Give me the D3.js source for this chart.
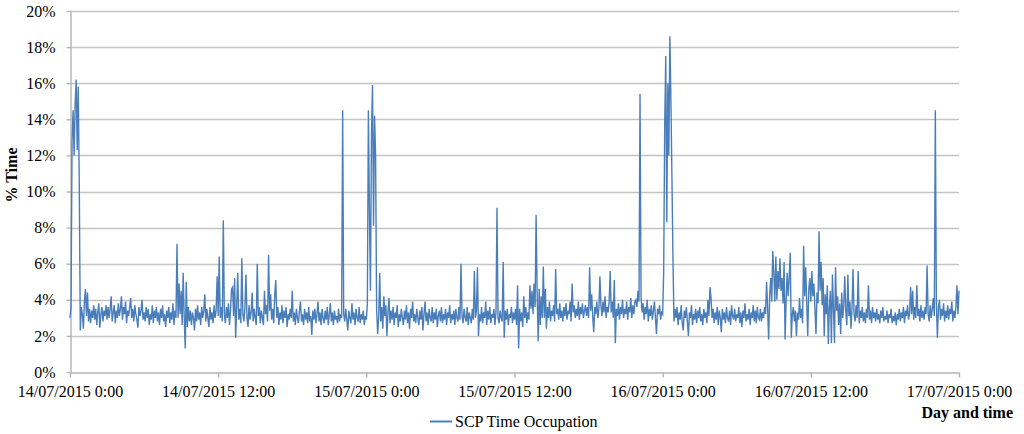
<!DOCTYPE html>
<html><head><meta charset="utf-8">
<script src="https://cdn.jsdelivr.net/npm/d3@7"></script>
<style>
body{margin:0;background:#fff}
text{font-family:"Liberation Serif","Times New Roman",serif;fill:#000}
</style>
</head><body><svg id="c" width="1024" height="434"></svg>
<script>
// 5-minute samples starting 14/07/2015 0:00
const stepMinutes = 5;
const day1 = [
3.0,3.6,12.8,14.5,12.0,14.8,16.2,12.3,15.8,10.5,2.3,3.6,
3.2,2.4,3.9,4.6,3.1,4.4,2.8,3.5,2.7,3.4,3.0,3.7,
2.9,3.5,2.6,3.3,3.8,2.45,3.2,3.6,2.8,3.4,3.1,3.7,
2.9,3.6,3.0,3.5,4.2,2.8,3.3,3.7,2.7,3.4,3.0,3.8,
3.1,3.5,4.2,2.9,3.6,3.2,3.9,2.7,3.4,3.1,3.6,4.1,
3.0,3.5,2.8,3.7,3.2,2.9,2.45,3.6,3.1,3.4,4.0,2.9,
3.3,2.8,3.6,3.0,3.5,2.6,3.2,2.9,3.7,2.7,3.4,3.0,
3.6,2.8,3.3,2.6,3.5,3.0,3.7,2.8,3.2,2.5,3.4,3.0,
3.6,2.7,3.3,2.9,3.8,2.6,3.4,3.0,7.1,3.0,4.9,3.2,
4.5,2.6,5.5,3.0,1.3,5.0,2.5,3.6,2.8,3.4,2.6,3.3,
3.0,2.3,3.5,2.8,3.7,2.9,3.3,2.6,3.6,3.0,3.4,4.3,
2.8,3.5,3.0,2.5,3.6,2.9,3.3,2.7,3.7,3.0,3.4,5.3,
3.1,6.4,3.0,3.6,2.8,8.4,3.2,2.7,3.6,3.0,3.8,2.6,
3.4,4.6,4.7,3.1,5.2,1.9,3.6,5.5,2.9,3.5,2.7,6.3,
3.2,2.8,3.6,5.4,3.0,2.5,3.7,2.9,3.3,4.4,2.8,3.5,
3.0,2.6,6.0,3.1,3.6,2.7,3.4,3.0,2.6,4.5,3.2,3.7,
2.8,6.5,3.4,4.3,2.9,3.5,2.7,4.3,5.1,3.0,3.6,2.6,
3.3,2.9,3.7,2.7,3.4,3.0,3.6,2.5,3.2,2.9,3.5,3.0,
4.5,2.8,3.3,2.6,3.5,3.0,2.7,3.4,3.9,2.8,3.2,2.6,
3.5,2.9,3.3,2.7,3.6,2.8,3.1,2.05,3.4,2.9,3.5,2.7,
3.2,3.9,2.8,3.3,2.6,3.5,3.0,2.7,3.4,2.9,3.6,2.6,
3.2,3.8,2.8,3.3,2.6,3.4,2.9,3.1,2.7,3.5,2.8,3.2,
3.0,14.5,3.2,2.8,3.5,2.9,2.3,3.4,3.0,2.7,3.8,2.9,
3.3,2.6,3.5,3.0,2.8,3.6,2.7,3.2,2.9,3.4,2.6,3.1
];
const day2 = [
2.9,3.8,14.5,9.0,4.5,13.2,15.9,8.1,14.2,12.0,3.5,2.1,
3.0,5.5,2.8,3.6,2.4,4.2,3.1,3.7,2.0,3.3,4.1,2.7,
3.4,2.9,3.6,2.6,3.3,3.0,3.7,2.5,3.2,2.8,3.5,3.0,
2.6,3.4,2.9,3.7,2.7,3.3,2.4,3.5,3.0,3.9,2.8,3.2,
2.7,3.5,3.0,2.6,3.4,2.9,3.6,2.3,3.2,3.9,2.8,3.3,
2.6,3.5,3.0,2.8,3.6,2.7,3.3,2.9,3.5,2.5,3.1,3.4,
2.8,3.6,2.7,3.2,2.9,3.5,2.6,3.3,3.0,3.7,2.7,3.2,
2.9,3.4,2.6,3.5,3.0,2.8,3.6,2.9,6.0,3.1,2.7,3.5,
3.0,2.8,3.6,2.6,3.3,3.0,2.7,3.5,2.9,5.6,3.0,3.4,
5.8,2.0,3.2,2.8,3.6,2.7,3.3,3.0,3.9,2.6,3.4,2.9,
3.6,2.7,3.2,3.0,3.5,2.6,3.3,9.1,3.0,2.7,3.4,3.0,
2.8,6.1,1.9,3.4,2.9,3.5,2.6,3.2,3.0,3.6,2.7,3.3,
2.9,3.5,2.6,4.8,1.3,3.5,2.8,3.3,2.5,4.2,3.0,3.6,
2.7,3.3,2.9,4.8,3.5,4.5,3.2,4.9,3.6,8.7,4.4,1.7,
4.6,2.6,4.2,3.0,5.85,3.0,4.6,2.4,3.6,3.0,3.9,2.8,
3.4,3.1,3.7,2.8,5.7,3.2,3.5,2.9,3.8,3.0,3.4,2.8,
3.6,3.1,3.8,2.9,3.4,3.2,3.9,2.8,4.9,3.3,3.7,3.0,
3.5,3.1,3.9,2.9,3.6,3.2,3.8,3.0,3.4,3.7,3.1,3.6,
3.0,5.8,3.4,4.3,3.1,2.2,3.6,3.2,3.9,3.0,3.5,5.3,
3.7,3.1,3.9,3.3,4.2,3.0,3.6,3.3,3.9,5.6,3.3,3.9,
3.0,5.1,1.6,3.5,3.1,3.8,2.9,3.6,3.2,4.0,3.0,3.5,
3.2,3.9,2.9,3.6,3.3,4.1,3.0,3.7,3.2,3.9,4.0,3.6,
4.5,3.9,15.4,4.2,3.3,3.8,2.9,3.6,3.2,4.0,2.8,3.5,
3.1,3.7,2.9,3.4,3.9,3.0,2.1,3.5,3.2,3.7,2.9,3.3
];
const day3 = [
3.2,5.6,13.8,17.5,8.3,16.0,12.0,18.6,15.1,10.8,6.3,2.8,
3.5,3.0,3.6,2.6,3.3,2.9,3.7,2.7,2.3,3.4,3.0,3.6,
2.8,2.0,3.3,3.0,3.7,2.6,3.2,2.9,3.5,2.7,3.4,3.0,
3.6,2.8,3.2,2.6,3.5,3.0,3.3,2.7,4.0,3.1,4.7,4.1,
3.0,3.5,2.7,3.3,2.9,3.6,2.6,3.4,3.0,2.2,3.5,2.9,
3.3,2.7,3.6,3.0,2.8,3.4,2.6,3.7,3.1,2.9,3.5,2.8,
3.2,3.0,3.6,2.7,3.3,2.5,3.4,3.0,3.8,2.8,3.2,2.9,
3.5,2.6,3.3,3.0,3.7,2.8,3.4,2.7,3.6,3.0,2.9,3.5,
2.8,3.3,3.0,3.6,3.2,5.0,3.5,1.8,4.2,5.2,3.9,6.7,
5.5,3.9,6.4,4.0,5.6,4.6,6.3,4.5,5.2,3.8,6.1,1.8,
4.0,5.5,4.2,5.3,6.6,1.9,3.2,3.6,2.8,3.4,2.0,3.3,
2.9,4.1,3.0,3.5,2.7,7.0,4.2,5.8,3.8,2.0,4.6,5.2,
3.9,5.6,4.2,4.9,3.5,2.1,4.4,3.8,7.8,4.5,6.1,3.7,
5.2,2.0,4.3,3.2,4.8,1.55,3.6,4.5,1.6,5.4,3.5,1.6,
5.8,3.4,4.2,2.6,3.8,2.1,4.4,3.0,3.7,5.3,3.3,2.6,
5.4,3.1,3.9,2.4,3.5,5.7,3.2,2.8,3.7,3.0,5.6,2.7,
3.4,3.0,3.6,2.8,3.3,2.7,3.5,3.0,4.8,2.9,3.4,2.7,
3.6,3.0,3.3,2.8,3.5,2.9,3.2,2.7,3.4,3.0,3.6,2.8,
3.1,2.9,3.4,2.7,3.2,3.0,3.5,2.7,3.1,2.8,3.3,2.6,
3.2,2.9,3.5,2.8,3.3,3.0,3.6,2.7,3.4,3.1,3.7,2.9,
3.3,4.7,3.2,4.5,2.9,3.6,3.0,4.8,3.1,3.5,2.8,3.7,
3.0,3.4,2.9,3.6,3.2,5.9,3.2,2.8,3.7,3.0,3.5,4.1,
3.1,14.5,3.8,1.9,3.6,4.0,2.9,3.5,3.1,3.8,2.8,3.4,
3.0,3.7,2.9,3.5,3.2,3.9,2.8,3.4,3.0,3.6,4.8,3.2,
4.5
];
const yTicks = [0,2,4,6,8,10,12,14,16,18,20];
const xTickLabels = ["14/07/2015 0:00","14/07/2015 12:00","15/07/2015 0:00","15/07/2015 12:00","16/07/2015 0:00","16/07/2015 12:00","17/07/2015 0:00"];
const seriesName = "SCP Time Occupation";
const yTitle = "% Time";
const xTitle = "Day and time";

const t0 = new Date(2015, 6, 14, 0, 0, 0);
const tEnd = new Date(2015, 6, 17, 0, 0, 0);
const values = day1.concat(day2, day3);
const data = values.map((v, i) => ({t: new Date(t0.getTime() + i * stepMinutes * 60000), v}));
const xTickValues = xTickLabels.map((d, k) => new Date(t0.getTime() + k * 12 * 3600000));

const svg = d3.select("#c");
const x = d3.scaleTime().domain([t0, tEnd]).range([70, 959]);
const y = d3.scaleLinear().domain([0, 20]).range([372, 11]);

// gridlines
svg.append("g").selectAll("line").data(yTicks.filter(d => d > 0)).join("line")
  .attr("x1", 70).attr("x2", 959)
  .attr("y1", d => Math.round(y(d)) + 0.5).attr("y2", d => Math.round(y(d)) + 0.5)
  .attr("stroke", "#c4c4c4").attr("stroke-width", 1.4);

// y axis
const gy = svg.append("g").attr("transform", "translate(70.5,0)")
  .call(d3.axisLeft(y).tickValues(yTicks).tickSize(4).tickSizeOuter(0).tickPadding(11).tickFormat(d => d + "%"));
gy.select(".domain").attr("stroke", "#b4b4b4").attr("stroke-width", 1.4);
gy.selectAll(".tick line").attr("stroke", "#b4b4b4").attr("stroke-width", 1.4);
gy.selectAll(".tick text").attr("font-size", 16).attr("font-family", "Liberation Serif").attr("fill", "#000");

// x axis
const gx = svg.append("g").attr("transform", "translate(0,372.5)")
  .call(d3.axisBottom(x).tickValues(xTickValues).tickSize(5).tickSizeOuter(0).tickPadding(8)
    .tickFormat((d, k) => xTickLabels[k]));
gx.select(".domain").attr("stroke", "#b4b4b4").attr("stroke-width", 1.4);
gx.selectAll(".tick line").attr("stroke", "#b4b4b4").attr("stroke-width", 1.4);
gx.selectAll(".tick text").attr("font-size", 16).attr("font-family", "Liberation Serif").attr("fill", "#000");

// series
const line = d3.line().x(d => x(d.t)).y(d => y(d.v));
svg.append("path").datum(data).attr("d", line)
  .attr("fill", "none").attr("stroke", "#4a7ebb").attr("stroke-width", 1.4)
  .attr("stroke-linejoin", "miter");

// axis titles
svg.append("text").attr("transform", "translate(17,175) rotate(-90)")
  .attr("text-anchor", "middle").attr("font-size", 16).attr("font-weight", "bold").text(yTitle);
svg.append("text").attr("x", 1013).attr("y", 418).attr("text-anchor", "end")
  .attr("font-size", 16).attr("font-weight", "bold").text(xTitle);

// legend
svg.append("line").attr("x1", 430).attr("x2", 452).attr("y1", 421.5).attr("y2", 421.5)
  .attr("stroke", "#4a7ebb").attr("stroke-width", 2);
svg.append("text").attr("x", 455).attr("y", 426.5).attr("font-size", 16).text(seriesName);
</script>
</body></html>
